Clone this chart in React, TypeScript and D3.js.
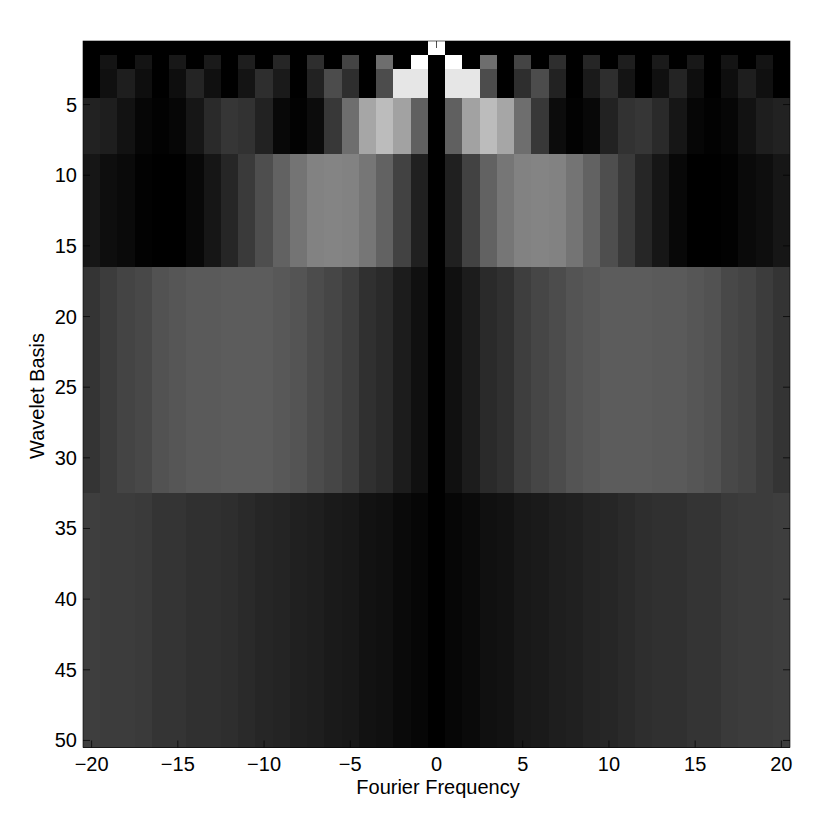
import React from "react";
import * as d3 from "d3";

const frequencies = d3.range(-20, 21);
const xTicks = [-20, -15, -10, -5, 0, 5, 10, 15, 20];
const yTicks = [5, 10, 15, 20, 25, 30, 35, 40, 45, 50];

// Each row band: first and last basis index, then grey level (0-255) per frequency
const band1Rows = [1, 1];
const band1 = [0,0,0,0,0,0,0,0,0,0,0,0,0,0,0,0,0,0,0,0,255,0,0,0,0,0,0,0,0,0,0,0,0,0,0,0,0,0,0,0,0];
const band2Rows = [2, 2];
const band2 = [0,20,0,20,0,24,0,26,0,30,0,38,0,46,0,68,0,110,0,255,0,255,0,110,0,68,0,46,0,38,0,30,0,26,0,24,0,20,0,20,0];
const band3Rows = [3, 4];
const band3 = [0,16,30,14,0,14,36,16,0,20,46,26,0,34,76,46,0,76,230,230,0,230,230,76,0,46,76,34,0,26,46,20,0,16,36,14,0,14,30,16,0];
const band4Rows = [5, 8];
const band4 = [34,30,18,6,2,6,22,42,54,50,34,8,2,12,56,110,166,188,162,96,0,96,162,188,166,110,56,12,2,8,34,50,54,42,22,6,2,6,18,30,34];
const band5Rows = [9, 16];
const band5 = [22,14,10,2,0,0,8,22,38,58,78,98,116,130,132,130,118,98,66,32,0,32,66,98,118,130,132,130,116,98,78,58,38,22,8,0,0,2,10,14,22];
const band6Rows = [17, 32];
const band6 = [52,60,68,72,82,86,90,90,92,92,92,88,84,76,70,62,48,42,28,16,0,16,28,42,48,62,70,76,84,88,92,92,92,90,90,86,82,72,68,60,52];
const band7Rows = [33, 50];
const band7 = [62,60,60,58,52,52,48,48,46,42,38,36,32,30,26,24,18,16,10,6,0,6,10,16,18,24,26,30,32,36,38,42,46,48,48,52,52,58,60,60,62];

const bands: [number[], number[]][] = [
  [band1Rows, band1], [band2Rows, band2], [band3Rows, band3], [band4Rows, band4],
  [band5Rows, band5], [band6Rows, band6], [band7Rows, band7],
];

const W = 830, H = 832;
const x = d3.scaleLinear().domain([-20.5, 20.5]).range([83, 790]);
const y = d3.scaleLinear().domain([0.5, 50.5]).range([41, 747.5]);
const grey = d3.scaleLinear<string>().domain([0, 255]).range(["#000000", "#ffffff"]);
const font = "'Liberation Sans', Arial, sans-serif";
const TL = 7;
const r = Math.round;

export default function App() {
  return (
    <svg width={W} height={H} style={{ position: "absolute", left: 0, top: 0, background: "#fff" }} fontFamily={font}>
      <g shapeRendering="crispEdges">
        {bands.map(([rows, vals], b) => vals.map((v, i) => {
          const f = frequencies[i];
          const x0 = r(x(f - 0.5)), x1 = r(x(f + 0.5));
          const y0 = r(y(rows[0] - 0.5)), y1 = r(y(rows[1] + 0.5));
          return <rect key={b + "-" + i} x={x0} y={y0} width={x1 - x0} height={y1 - y0} fill={grey(v)} />;
        }))}
      </g>
      <rect x={83} y={41} width={707} height={706.5} fill="none" stroke="#000" strokeWidth={0.6} />
      {xTicks.map(t => (
        <g key={t}>
          <line x1={x(t)} x2={x(t)} y1={747.5} y2={747.5 - TL} stroke="#000" strokeWidth={0.7} />
          <line x1={x(t)} x2={x(t)} y1={41} y2={41 + TL} stroke="#000" strokeWidth={0.7} />
          <text x={x(t)} y={771} textAnchor="middle" fontSize={20}>{t < 0 ? "\u2212" + Math.abs(t) : t}</text>
        </g>
      ))}
      {yTicks.map(t => (
        <g key={t}>
          <line x1={83} x2={83 + TL} y1={y(t)} y2={y(t)} stroke="#000" strokeWidth={0.7} />
          <line x1={790} x2={790 - TL} y1={y(t)} y2={y(t)} stroke="#000" strokeWidth={0.7} />
          <text x={77} y={y(t) + 7} textAnchor="end" fontSize={20}>{t}</text>
        </g>
      ))}
      <text x={438} y={794} textAnchor="middle" fontSize={20}>Fourier Frequency</text>
      <text transform="translate(44,396) rotate(-90)" textAnchor="middle" fontSize={20}>Wavelet Basis</text>
    </svg>
  );
}
